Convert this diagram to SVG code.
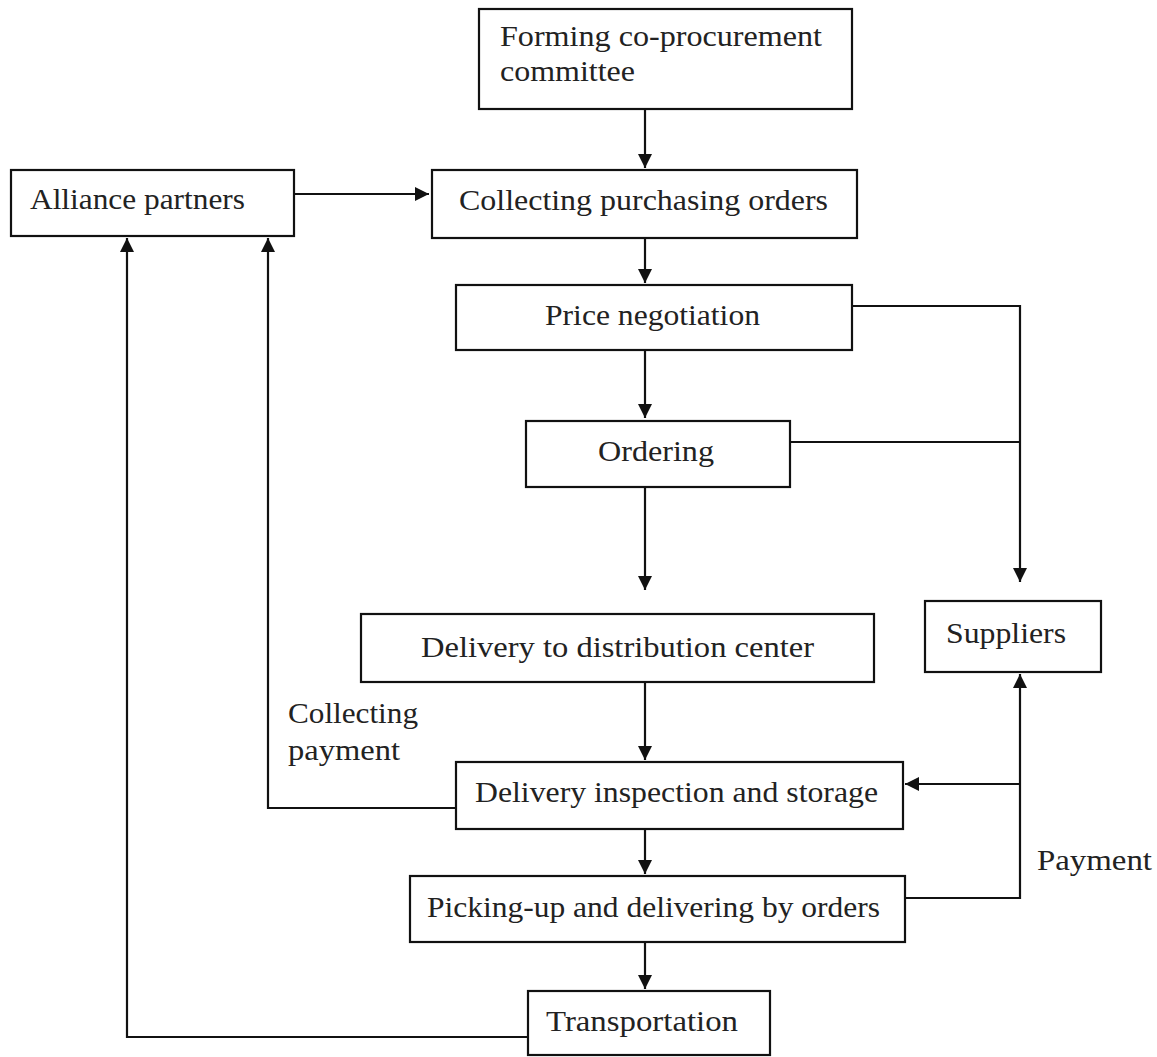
<svg xmlns="http://www.w3.org/2000/svg" width="1157" height="1057" viewBox="0 0 1157 1057">
<style>
.box{fill:#fff;stroke:#111;stroke-width:2.2}
.t{font-family:"Liberation Serif","Times New Roman",serif;font-size:29px;fill:#222}
.ln{fill:none;stroke:#111;stroke-width:2.2}
</style>
<defs>
<marker id="a" viewBox="0 0 12 12" refX="12" refY="6" markerWidth="14" markerHeight="14" markerUnits="userSpaceOnUse" orient="auto">
<path d="M0,0 L12,6 L0,12 z" fill="#111"/>
</marker>
</defs>
<rect width="1157" height="1057" fill="#fff"/>
<g id="connectors">
<line class="ln" x1="645" y1="109" x2="645" y2="168" marker-end="url(#a)"/>
<line class="ln" x1="294" y1="194" x2="429" y2="194" marker-end="url(#a)"/>
<line class="ln" x1="645" y1="238" x2="645" y2="283" marker-end="url(#a)"/>
<line class="ln" x1="645" y1="350" x2="645" y2="418" marker-end="url(#a)"/>
<line class="ln" x1="645" y1="487" x2="645" y2="590" marker-end="url(#a)"/>
<polyline class="ln" points="852,306 1020,306 1020,582" marker-end="url(#a)"/>
<line class="ln" x1="790" y1="442" x2="1020" y2="442"/>
<line class="ln" x1="645" y1="682" x2="645" y2="760" marker-end="url(#a)"/>
<line class="ln" x1="645" y1="829" x2="645" y2="874" marker-end="url(#a)"/>
<line class="ln" x1="645" y1="942" x2="645" y2="989" marker-end="url(#a)"/>
<polyline class="ln" points="905,898 1020,898 1020,674" marker-end="url(#a)"/>
<line class="ln" x1="1020" y1="784" x2="905" y2="784" marker-end="url(#a)"/>
<polyline class="ln" points="456,808 268,808 268,238" marker-end="url(#a)"/>
<polyline class="ln" points="528,1037 127,1037 127,238" marker-end="url(#a)"/>
</g>
<g id="n-forming"><rect class="box" x="479" y="9" width="373" height="100"/>
<text class="t" x="500" y="46" textLength="322" lengthAdjust="spacingAndGlyphs">Forming co-procurement</text><text class="t" x="500" y="81" textLength="135" lengthAdjust="spacingAndGlyphs">committee</text></g>
<g id="n-alliance"><rect class="box" x="11" y="170" width="283" height="66"/>
<text class="t" x="30" y="209" textLength="215" lengthAdjust="spacingAndGlyphs">Alliance partners</text></g>
<g id="n-collecting"><rect class="box" x="432" y="170" width="425" height="68"/>
<text class="t" x="459" y="210" textLength="369" lengthAdjust="spacingAndGlyphs">Collecting purchasing orders</text></g>
<g id="n-price"><rect class="box" x="456" y="285" width="396" height="65"/>
<text class="t" x="545" y="325" textLength="215" lengthAdjust="spacingAndGlyphs">Price negotiation</text></g>
<g id="n-ordering"><rect class="box" x="526" y="421" width="264" height="66"/>
<text class="t" x="598" y="461" textLength="116" lengthAdjust="spacingAndGlyphs">Ordering</text></g>
<g id="n-delivery-dc"><rect class="box" x="361" y="614" width="513" height="68"/>
<text class="t" x="421" y="657" textLength="393" lengthAdjust="spacingAndGlyphs">Delivery to distribution center</text></g>
<g id="n-suppliers"><rect class="box" x="925" y="601" width="176" height="71"/>
<text class="t" x="946" y="643" textLength="120" lengthAdjust="spacingAndGlyphs">Suppliers</text></g>
<g id="n-inspection"><rect class="box" x="456" y="762" width="447" height="67"/>
<text class="t" x="475" y="802" textLength="403" lengthAdjust="spacingAndGlyphs">Delivery inspection and storage</text></g>
<g id="n-picking"><rect class="box" x="410" y="876" width="495" height="66"/>
<text class="t" x="427" y="917" textLength="453" lengthAdjust="spacingAndGlyphs">Picking-up and delivering by orders</text></g>
<g id="n-transport"><rect class="box" x="528" y="991" width="242" height="64"/>
<text class="t" x="546" y="1031" textLength="192" lengthAdjust="spacingAndGlyphs">Transportation</text></g>
<g id="labels">
<text class="t" x="288" y="723" textLength="130" lengthAdjust="spacingAndGlyphs">Collecting</text>
<text class="t" x="288" y="760" textLength="112" lengthAdjust="spacingAndGlyphs">payment</text>
<text class="t" x="1037" y="870" textLength="115" lengthAdjust="spacingAndGlyphs">Payment</text>
</g>
</svg>
